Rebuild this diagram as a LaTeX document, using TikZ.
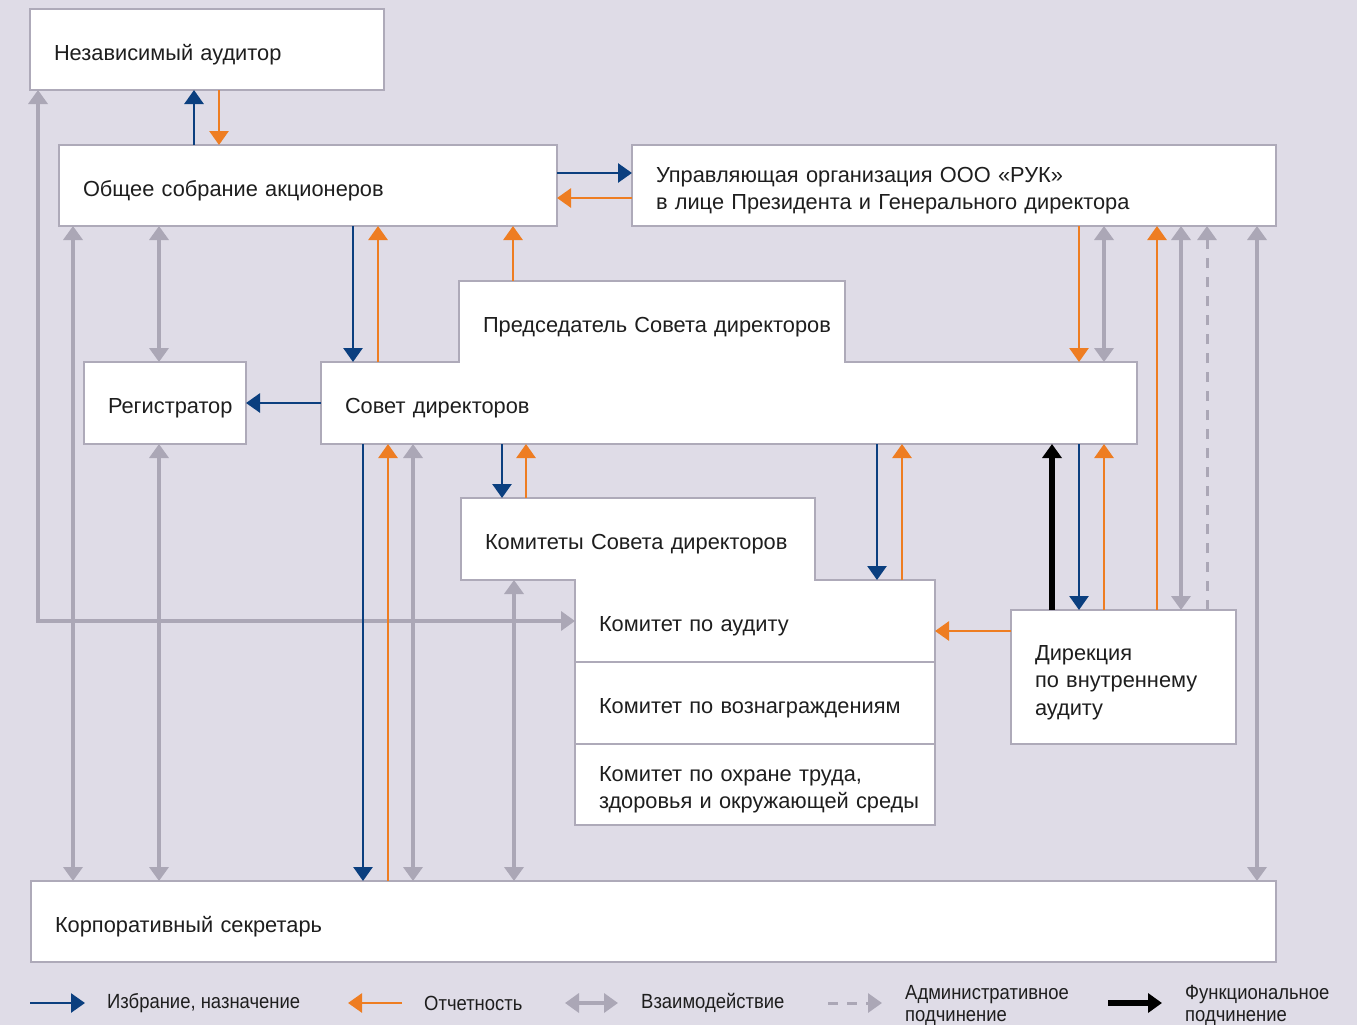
\documentclass[tikz,border=0pt]{standalone}
\usepackage{fontspec}
\setmainfont{Liberation Sans}
\newfontfamily\legfont[FakeStretch=0.9]{Liberation Sans}
\usetikzlibrary{arrows.meta}
\definecolor{bg}{HTML}{DFDCE7}
\definecolor{bord}{HTML}{AEAAB9}
\definecolor{garr}{HTML}{ABA7B6}
\definecolor{barr}{HTML}{0B3F7F}
\definecolor{oarr}{HTML}{EE7D22}
\definecolor{txt}{HTML}{1E1E1E}
\hfuzz=100pt
\begin{document}
\begin{tikzpicture}[x=1pt,y=-1pt,
  box/.style={draw=bord, line width=2.5pt, fill=white, anchor=north west, outer sep=0pt,
    inner xsep=24pt, inner ysep=0pt, align=left, text=txt,
    font=\fontsize{21.8}{27.5}\selectfont,
    execute at begin node={\rule[-5pt]{0pt}{31pt}}},
  bl/.style={draw=barr, line width=2.7pt, -{Triangle[length=14pt,width=19pt]}},
  ol/.style={draw=oarr, line width=2.7pt, -{Triangle[length=14pt,width=19pt]}},
  gl/.style={draw=garr, line width=4.5pt, {Triangle[length=14pt,width=19pt]}-{Triangle[length=14pt,width=19pt]}},
  gd/.style={draw=garr, line width=3pt, dash pattern=on 10pt off 9pt, -{Triangle[length=14pt,width=19pt]}},
  kl/.style={draw=black, line width=5.5pt, -{Triangle[length=14pt,width=19pt]}},
  leg/.style={anchor=west, inner sep=0pt, align=left, text=txt,
    font=\legfont\fontsize{20.5}{22}\selectfont}]
\useasboundingbox (0,0) rectangle (1357,1025);
\fill[bg] (0,0) rectangle (1357,1025);

% boxes
\node[box, text width=306pt, minimum height=81pt] (ind) at (30,9) {Независимый аудитор};
\node[box, text width=450pt, minimum height=81pt] (obs) at (59,145) {Общее собрание акционеров};
\node[box, text width=596pt, minimum height=81pt] (upr) at (632,145) {Управляющая организация ООО «РУК»\\в лице Президента и Генерального директора};
\node[box, text width=768pt, minimum height=82pt] (sov) at (321,362) {Совет директоров};
\node[box, text width=338pt, minimum height=81pt] (pre) at (459,281) {\mbox{Председатель Совета директоров}};
\node[box, text width=114pt, minimum height=82pt] (reg) at (84,362) {\mbox{Регистратор}};
\node[box, text width=306pt, minimum height=82pt] (kom) at (461,498) {Комитеты Совета директоров};
\node[box, text width=312pt, minimum height=82pt] (aud) at (575,580) {Комитет по аудиту};
\node[box, text width=312pt, minimum height=82pt] (voz) at (575,662) {\mbox{Комитет по вознаграждениям}};
\node[box, text width=312pt, minimum height=81pt] (ohr) at (575,744) {\mbox{Комитет по охране труда,}\\\mbox{здоровья и окружающей среды}};
\node[box, text width=177pt, minimum height=134pt] (dir) at (1011,610) {Дирекция\\\mbox{по внутреннему}\\аудиту};
\node[box, text width=1197pt, minimum height=81pt] (corp) at (31,881) {Корпоративный секретарь};
% merge shared borders
\fill[white] (460.4,360.4) rectangle (843.6,363.8);
\fill[white] (576.4,578.4) rectangle (813.6,581.6);

% gray interactions
\draw[gl] (38,0 |- ind.south) |- (aud.west);
\draw[gl] (73,0 |- obs.south) -- (73,0 |- corp.north);
\draw[gl] (159,0 |- obs.south) -- (159,0 |- reg.north);
\draw[gl] (159,0 |- reg.south) -- (159,0 |- corp.north);
\draw[gl] (413,0 |- sov.south) -- (413,0 |- corp.north);
\draw[gl] (514,0 |- kom.south) -- (514,0 |- corp.north);
\draw[gl] (1104,0 |- upr.south) -- (1104,0 |- sov.north);
\draw[gl] (1181,0 |- upr.south) -- (1181,0 |- dir.north);
\draw[gd] (1207,0 |- dir.north) -- (1207,0 |- upr.south);
\draw[gl] (1257,0 |- upr.south) -- (1257,0 |- corp.north);

% blue
\draw[bl] (194,0 |- obs.north) -- (194,0 |- ind.south);
\draw[bl] (obs.east |- 0,173) -- (upr.west |- 0,173);
\draw[bl] (353,0 |- obs.south) -- (353,0 |- sov.north);
\draw[bl] (sov.west |- 0,403) -- (reg.east |- 0,403);
\draw[bl] (363,0 |- sov.south) -- (363,0 |- corp.north);
\draw[bl] (502,0 |- sov.south) -- (502,0 |- kom.north);
\draw[bl] (877,0 |- sov.south) -- (877,0 |- aud.north);
\draw[bl] (1079,0 |- sov.south) -- (1079,0 |- dir.north);

% orange
\draw[ol] (219,0 |- ind.south) -- (219,0 |- obs.north);
\draw[ol] (upr.west |- 0,198) -- (obs.east |- 0,198);
\draw[ol] (378,0 |- sov.north) -- (378,0 |- obs.south);
\draw[ol] (513,0 |- pre.north) -- (513,0 |- obs.south);
\draw[ol] (388,0 |- corp.north) -- (388,0 |- sov.south);
\draw[ol] (526,0 |- kom.north) -- (526,0 |- sov.south);
\draw[ol] (902,0 |- aud.north) -- (902,0 |- sov.south);
\draw[ol] (1104,0 |- dir.north) -- (1104,0 |- sov.south);
\draw[ol] (dir.west |- 0,631) -- (aud.east |- 0,631);
\draw[ol] (1079,0 |- upr.south) -- (1079,0 |- sov.north);
\draw[ol] (1157,0 |- dir.north) -- (1157,0 |- upr.south);

% black
\draw[kl] (1052,0 |- dir.north) -- (1052,0 |- sov.south);

% legend
\coordinate (la1) at (30,1003); \coordinate (lb1) at (85,1003);
\draw[bl] (la1) -- (lb1);
\node[leg] (lt1) at (107,1003) {Избрание, назначение};
\coordinate (la2) at (402,1003); \coordinate (lb2) at (348,1003);
\draw[ol] (la2) -- (lb2);
\node[leg] (lt2) at (424,1003) {Отчетность};
\coordinate (la3) at (565,1003); \coordinate (lb3) at (618,1003);
\draw[gl] (la3) -- (lb3);
\node[leg] (lt3) at (641,1003) {Взаимодействие};
\coordinate (la4) at (828,1003); \coordinate (lb4) at (882,1003);
\draw[gd] (la4) -- (lb4);
\node[leg] (lt4) at (905,1005) {Административное\\подчинение};
\coordinate (la5) at (1108,1003); \coordinate (lb5) at (1162,1003);
\draw[kl] (la5) -- (lb5);
\node[leg] (lt5) at (1185,1005) {Функциональное\\подчинение};
\end{tikzpicture}
\end{document}
